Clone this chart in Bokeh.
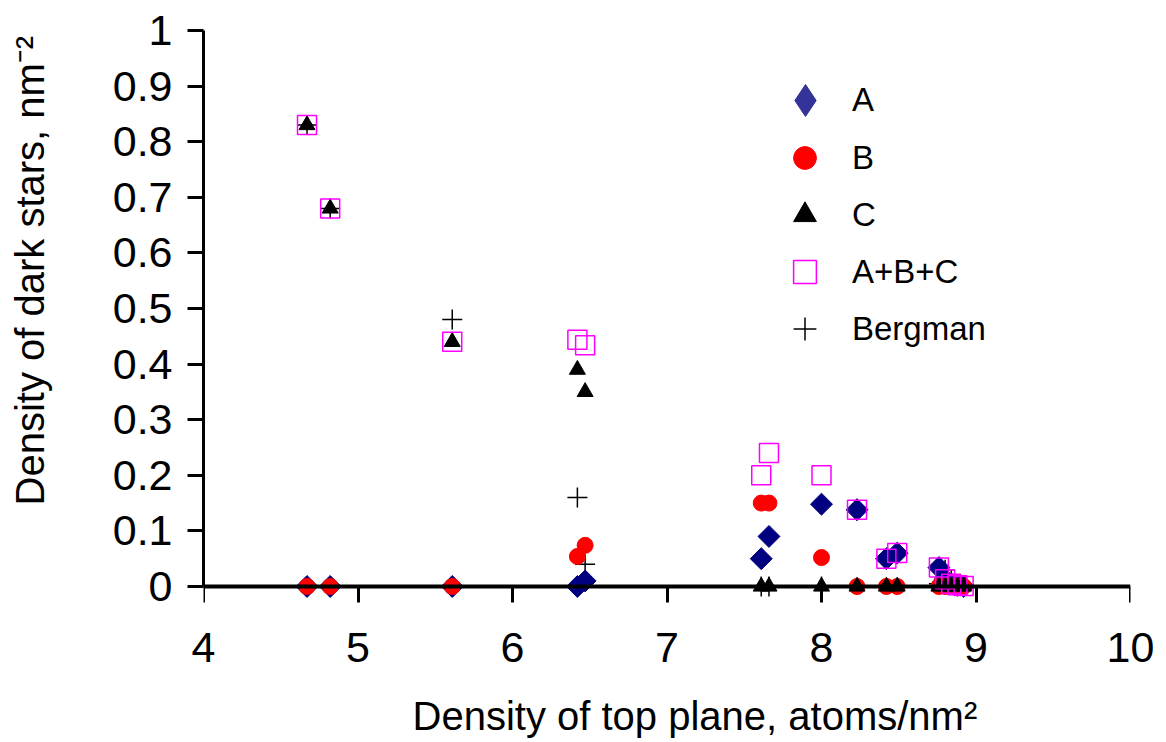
import math

from bokeh.embed import file_html
from bokeh.models import (FixedTicker, Legend, LegendItem, LinearAxis,
                          NumeralTickFormatter, Range1d, Title)
from bokeh.plotting import figure
from bokeh.resources import INLINE

# Density of top plane (atoms/nm^2) for each surface termination
top_density = [4.67, 4.82, 5.61, 6.42, 6.47, 7.61, 7.66, 8.00, 8.23, 8.42, 8.49,
               8.76, 8.80, 8.84, 8.88, 8.92]

# Density of dark stars (nm^-2) per type
stars_a = [0.0, 0.0, 0.0, 0.0, 0.01, 0.05, 0.09, 0.148, 0.138, 0.05, 0.06,
           0.034, 0.013, 0.005, 0.002, 0.0]
stars_b = [0.0, 0.0, 0.0, 0.054, 0.074, 0.15, 0.15, 0.052, 0.0, 0.0, 0.0,
           0.0, 0.0, 0.0, 0.0, 0.0]
stars_c = [0.83, 0.68, 0.44, 0.39, 0.35, 0.0, 0.0, 0.0, 0.0, 0.0, 0.0,
           0.0, 0.0, 0.0, 0.0, 0.0]
stars_total = [0.83, 0.68, 0.44, 0.444, 0.434, 0.20, 0.24, 0.20, 0.138, 0.05, 0.06,
               0.034, 0.013, 0.005, 0.002, 0.001]
stars_bergman = [0.83, 0.68, 0.48, 0.16, 0.04, 0.0, 0.0, 0.0, 0.14, 0.05, 0.06,
                 0.005, 0.03, 0.012, 0.004, 0.002]

x_ticks = [4, 5, 6, 7, 8, 9, 10]
y_ticks = [0, 0.1, 0.2, 0.3, 0.4, 0.5, 0.6, 0.7, 0.8, 0.9, 1.0]

FONT = "Liberation Sans"
TICK_SIZE = "43px"
TITLE_SIZE = "40px"
LEGEND_SIZE = "33px"


def spacer(gap, at):
    """A blank axis (white tick, blank label) that only reserves `gap` pixels."""
    return LinearAxis(ticker=FixedTicker(ticks=[at]), axis_line_color=None,
                      major_tick_line_color="white", major_tick_line_width=1,
                      minor_tick_line_color=None, major_tick_out=gap, major_tick_in=0,
                      major_label_standoff=0, major_label_text_font_size="1px",
                      major_label_overrides={at: " "})


p = figure(width=1166, height=742,
           x_range=Range1d(4, 10), y_range=Range1d(-0.045, 1.0),
           x_axis_location=None,
           output_backend="svg", toolbar_location=None,
           min_border_left=203, min_border_right=36,
           min_border_top=30, min_border_bottom=131)
p.outline_line_color = None
p.grid.visible = False
p.background_fill_color = "white"
p.border_fill_color = "white"

# y axis on x = 4, spanning 0..1
ya = p.yaxis[0]
ya.bounds = (0, 1)
ya.ticker = FixedTicker(ticks=y_ticks)
ya.formatter = NumeralTickFormatter(format="0.[0]")
ya.axis_line_color = "black"
ya.axis_line_width = 3
ya.major_tick_line_color = "black"
ya.major_tick_line_width = 3
ya.major_tick_out = 16
ya.major_tick_in = 0
ya.minor_tick_line_color = None
ya.major_label_standoff = 15
ya.major_label_text_font = FONT
ya.major_label_text_font_size = TICK_SIZE
ya.major_label_text_color = "black"

p.add_layout(spacer(50, 0), "left")
p.add_layout(Title(text="Density of dark stars, nm⁻²", align="left", offset=106,
                   text_font=FONT, text_font_size=TITLE_SIZE, text_font_style="normal",
                   text_color="black"), "left")

# x tick labels along the bottom of the frame
x_labels = LinearAxis(ticker=FixedTicker(ticks=x_ticks),
                      axis_line_color=None, major_tick_line_color=None,
                      minor_tick_line_color=None, major_tick_out=0, major_tick_in=0,
                      major_label_standoff=21, major_label_text_font=FONT,
                      major_label_text_font_size=TICK_SIZE,
                      major_label_text_color="black")
p.add_layout(x_labels, "below")
p.add_layout(spacer(23, 7), "below")
p.add_layout(Title(text="Density of top plane, atoms/nm²", align="left", offset=209,
                   standoff=0, text_font=FONT, text_font_size=TITLE_SIZE,
                   text_font_style="normal", text_color="black"), "below")

# x axis line drawn on y = 0, ticks pointing down
x_line = LinearAxis(ticker=FixedTicker(ticks=x_ticks), fixed_location=0, bounds=(4, 10),
                    axis_line_color="black", axis_line_width=4,
                    major_tick_line_color="black", major_tick_line_width=3,
                    major_tick_out=0, major_tick_in=16, minor_tick_line_color=None,
                    major_label_standoff=0, major_label_text_font_size="1px",
                    major_label_text_alpha=0)
p.add_layout(x_line, "above")

r_berg = p.scatter(top_density, stars_bergman, marker="cross", size=20,
                   line_color="black", line_width=1.5)
r_a = p.scatter(top_density, stars_a, marker="square", angle=math.pi / 4, size=15.5,
                fill_color="#000080", line_color="#000080")
r_b = p.scatter(top_density, stars_b, marker="circle", size=16,
                fill_color="#FF0000", line_color="#FF0000")
r_c = p.scatter(top_density, stars_c, marker="triangle", size=16,
                fill_color="black", line_color="black")
r_tot = p.scatter(top_density, stars_total, marker="square", size=19,
                  fill_color=None, line_color="#FF00FF", line_width=1.5)

# legend key for A: a diamond glyph on the same data, kept hidden in the plot
r_a_key = p.scatter(top_density, stars_a, marker="diamond", size=20,
                    fill_color="#333399", line_color="#333399", visible=False)


def styled_legend(items, box, standoff, location):
    lg = Legend(items=items, location=location)
    lg.glyph_width = box
    lg.glyph_height = box
    lg.label_height = box
    lg.spacing = 0
    lg.padding = 0
    lg.margin = 0
    lg.label_standoff = standoff
    lg.border_line_color = None
    lg.background_fill_alpha = 0
    lg.inactive_fill_alpha = 0
    lg.label_text_font = FONT
    lg.label_text_font_size = LEGEND_SIZE
    lg.label_text_color = "black"
    return lg


p.add_layout(styled_legend([LegendItem(label="A", renderers=[r_a_key])],
                           80, 7, (562, 471)))
p.add_layout(styled_legend([
    LegendItem(label="B", renderers=[r_b]),
    LegendItem(label="C", renderers=[r_c]),
    LegendItem(label="A+B+C", renderers=[r_tot]),
    LegendItem(label="Bergman", renderers=[r_berg]),
], 57, 19, (573, 254)))

open("out.html", "w").write(file_html(p, INLINE))
